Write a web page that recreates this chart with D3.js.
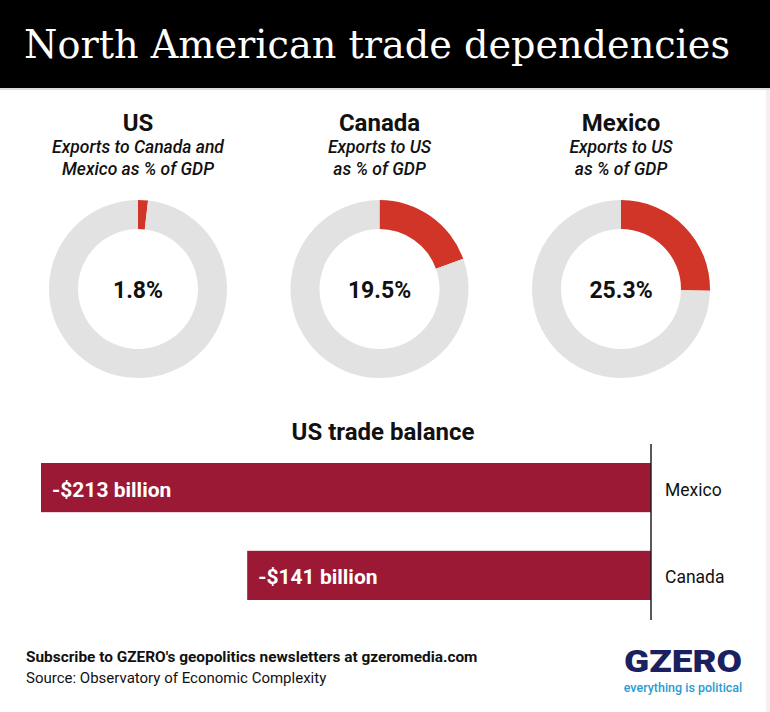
<!DOCTYPE html>
<html>
<head>
<meta charset="utf-8">
<script src="https://cdn.jsdelivr.net/npm/d3@7"></script>
<style>
  body { margin: 0; background: #fff; }
  svg { display: block; }
</style>
</head>
<body>
<div id="chart-area"></div>
<script>
// donut data
var countries = ["US", "Canada", "Mexico"];
var subtitles = [["Exports to Canada and", "Mexico as % of GDP"], ["Exports to US", "as % of GDP"], ["Exports to US", "as % of GDP"]];
var exportShare = [1.8, 19.5, 25.3];

// bar data
var balanceCountries = ["Mexico", "Canada"];
var balanceValues = [-213, -141];

var W = 770, H = 712;
var svg = d3.select("#chart-area").append("svg")
    .attr("width", W)
    .attr("height", H);

// header
svg.append("rect").attr("x", 0).attr("y", 0).attr("width", W).attr("height", 88).attr("fill", "#000");
svg.append("rect").attr("x", 0).attr("y", 88).attr("width", W).attr("height", 2).attr("fill", "#ddd");
svg.append("text")
    .attr("x", 24).attr("y", 58)
    .attr("fill", "#fff")
    .style("font-family", "'DejaVu Serif', serif")
    .style("font-size", "40px")
    .attr("textLength", 706)
    .attr("lengthAdjust", "spacingAndGlyphs")
    .text("North American trade dependencies");

// donuts
var xc = d3.scalePoint().domain(countries).range([138, 621]);
var cy = 289;
var arc = d3.arc().innerRadius(60).outerRadius(89);
var pie = d3.pie().sort(null);

countries.forEach((c, i) => {
    var g = svg.append("g").attr("transform", "translate(" + xc(c) + ",0)");
    g.append("text")
        .attr("y", 131).attr("text-anchor", "middle")
        .style("font-family", "Roboto, sans-serif").style("font-weight", "700").style("font-size", "24px")
        .attr("fill", "#111")
        .text(c);
    subtitles[i].forEach((s, j) => {
        g.append("text")
            .attr("y", 153 + j * 22).attr("text-anchor", "middle")
            .style("font-family", "Roboto, sans-serif").style("font-style", "italic").style("font-weight", "500").style("font-size", "17.5px")
            .attr("fill", "#111")
            .text(s);
    });
    var dg = g.append("g").attr("transform", "translate(0," + cy + ")");
    dg.selectAll("path")
        .data(pie([exportShare[i], 100 - exportShare[i]]))
        .enter().append("path")
        .attr("d", arc)
        .attr("fill", (d, k) => k === 0 ? "#d13527" : "#e2e2e2");
    dg.append("text")
        .attr("y", 9).attr("text-anchor", "middle")
        .style("font-family", "Roboto, sans-serif").style("font-weight", "700").style("font-size", "23px")
        .attr("fill", "#111")
        .text(exportShare[i] + "%");
});

// bar chart
svg.append("text")
    .attr("x", 383).attr("y", 440).attr("text-anchor", "middle")
    .style("font-family", "Roboto, sans-serif").style("font-weight", "700").style("font-size", "24px")
    .attr("fill", "#111")
    .text("US trade balance");

var x = d3.scaleLinear().domain([-213, 0]).range([41, 651]);
var y = d3.scaleBand().domain(balanceCountries).range([463, 600]).paddingInner(0.44);

svg.selectAll(".bar")
    .data(balanceValues)
    .enter().append("rect")
    .attr("class", "bar")
    .attr("x", d => x(d))
    .attr("y", (d, i) => y(balanceCountries[i]))
    .attr("width", d => x(0) - x(d))
    .attr("height", y.bandwidth())
    .attr("fill", "#9b1934");

svg.selectAll(".barlabel")
    .data(balanceValues)
    .enter().append("text")
    .attr("class", "barlabel")
    .attr("x", d => x(d) + 11)
    .attr("y", (d, i) => y(balanceCountries[i]) + y.bandwidth() / 2 + 9)
    .attr("fill", "#fff")
    .style("font-family", "Roboto, sans-serif").style("font-weight", "700").style("font-size", "21px")
    .text(d => "-$" + Math.abs(d) + " billion");

svg.append("line")
    .attr("x1", x(0)).attr("x2", x(0))
    .attr("y1", 444).attr("y2", 620)
    .attr("stroke", "#222").attr("stroke-width", 1.5);

svg.selectAll(".cat")
    .data(balanceCountries)
    .enter().append("text")
    .attr("class", "cat")
    .attr("x", 665)
    .attr("y", d => y(d) + y.bandwidth() / 2 + 8)
    .attr("fill", "#111")
    .style("font-family", "Roboto, sans-serif").style("font-size", "17.5px")
    .text(d => d);

// footer
svg.append("text")
    .attr("x", 26).attr("y", 662)
    .attr("fill", "#111")
    .style("font-family", "Roboto, sans-serif").style("font-weight", "700").style("font-size", "15.4px")
    .text("Subscribe to GZERO's geopolitics newsletters at gzeromedia.com");
svg.append("text")
    .attr("x", 26).attr("y", 683)
    .attr("fill", "#111")
    .style("font-family", "Roboto, sans-serif").style("font-size", "15px")
    .text("Source: Observatory of Economic Complexity");

svg.append("text")
    .attr("x", 683).attr("y", 672).attr("text-anchor", "middle")
    .attr("fill", "#1b2160")
    .style("font-family", "Roboto, sans-serif").style("font-weight", "900").style("font-size", "31px")
    .attr("textLength", 118).attr("lengthAdjust", "spacingAndGlyphs")
    .text("GZERO");
svg.append("text")
    .attr("x", 683).attr("y", 692).attr("text-anchor", "middle")
    .attr("fill", "#2b9ad6")
    .style("font-family", "Roboto, sans-serif").style("font-weight", "500").style("font-size", "12.5px")
    .text("everything is political");

svg.append("rect").attr("x", 766).attr("y", 90).attr("width", 4).attr("height", H - 90).attr("fill", "#f6eef0");
</script>
</body>
</html>
